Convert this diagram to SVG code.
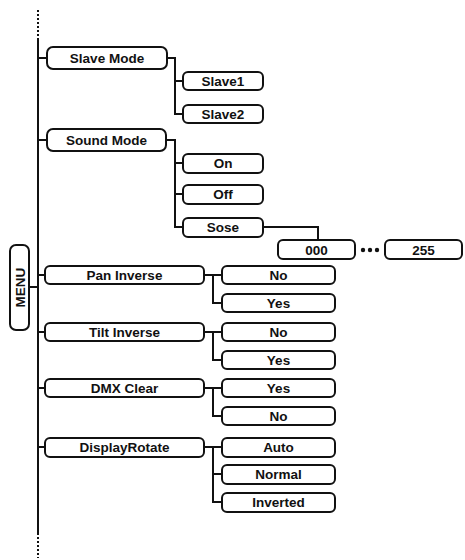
<svg xmlns="http://www.w3.org/2000/svg" width="465" height="560" viewBox="0 0 465 560">
<style>
.b{fill:#fff;stroke:#111;stroke-width:2}
.t{font-family:"Liberation Sans",Arial,sans-serif;font-weight:bold;font-size:13.5px;fill:#111;text-anchor:middle}
.c{fill:none;stroke:#111;stroke-width:2}
.d{fill:none;stroke:#111;stroke-width:2;stroke-dasharray:2 2}
</style>
<rect width="465" height="560" fill="#fff"/>
<g id="connectors">
<line class="d" x1="38" y1="10" x2="38" y2="40"/>
<line class="c" x1="38" y1="40" x2="38" y2="533"/>
<line class="d" x1="38" y1="533" x2="38" y2="558"/>
<line class="c" x1="29" y1="287" x2="38" y2="287"/>
<line class="c" x1="38" y1="58" x2="47" y2="58"/>
<line class="c" x1="38" y1="140" x2="47" y2="140"/>
<line class="c" x1="38" y1="275" x2="45" y2="275"/>
<line class="c" x1="38" y1="332" x2="45" y2="332"/>
<line class="c" x1="38" y1="388" x2="45" y2="388"/>
<line class="c" x1="38" y1="447" x2="45" y2="447"/>
<path class="c" d="M167 58H175V114H183M175 81H183"/>
<path class="c" d="M166 140H175V227H183M175 163H183M175 194H183"/>
<path class="c" d="M263 227H318V240"/>
<path class="c" d="M204 275H222M213 275V303H222"/>
<path class="c" d="M204 332H222M213 332V360H222"/>
<path class="c" d="M204 388H222M213 388V416H222"/>
<path class="c" d="M204 447H222M213 447V502H222M213 474H222"/>
<circle cx="363" cy="250" r="2.2" fill="#111"/>
<circle cx="370" cy="250" r="2.2" fill="#111"/>
<circle cx="377" cy="250" r="2.2" fill="#111"/>
</g>
<g id="menu"><rect class="b" x="10" y="245" width="19" height="85" rx="6"/><text class="t" transform="translate(24.5 287.5) rotate(-90)">MENU</text></g>
<g id="slave-mode"><rect class="b" x="47" y="47" width="120" height="22" rx="6"/><text class="t" x="107" y="63">Slave Mode</text></g>
<g id="slave1"><rect class="b" x="183" y="72" width="80" height="18" rx="5"/><text class="t" x="223" y="86">Slave1</text></g>
<g id="slave2"><rect class="b" x="183" y="105" width="80" height="18" rx="5"/><text class="t" x="223" y="119">Slave2</text></g>
<g id="sound-mode"><rect class="b" x="47" y="129" width="119" height="22" rx="6"/><text class="t" x="106.5" y="145">Sound Mode</text></g>
<g id="on"><rect class="b" x="183" y="154" width="80" height="19" rx="5"/><text class="t" x="223" y="168">On</text></g>
<g id="off"><rect class="b" x="183" y="185" width="80" height="19" rx="5"/><text class="t" x="223" y="199">Off</text></g>
<g id="sose"><rect class="b" x="183" y="218" width="80" height="19" rx="5"/><text class="t" x="223" y="232">Sose</text></g>
<g id="v000"><rect class="b" x="278" y="240" width="77" height="19" rx="5"/><text class="t" x="316.5" y="254.5">000</text></g>
<g id="v255"><rect class="b" x="385" y="240" width="77" height="19" rx="5"/><text class="t" x="423.5" y="254.5">255</text></g>
<g id="pan-inverse"><rect class="b" x="45" y="266" width="159" height="18" rx="5"/><text class="t" x="124.5" y="280">Pan Inverse</text></g>
<g id="pan-no"><rect class="b" x="222" y="266" width="113" height="18" rx="5"/><text class="t" x="278.5" y="280">No</text></g>
<g id="pan-yes"><rect class="b" x="222" y="294" width="113" height="18" rx="5"/><text class="t" x="278.5" y="308">Yes</text></g>
<g id="tilt-inverse"><rect class="b" x="45" y="323" width="159" height="18" rx="5"/><text class="t" x="124.5" y="337">Tilt Inverse</text></g>
<g id="tilt-no"><rect class="b" x="222" y="323" width="113" height="18" rx="5"/><text class="t" x="278.5" y="337">No</text></g>
<g id="tilt-yes"><rect class="b" x="222" y="351" width="113" height="18" rx="5"/><text class="t" x="278.5" y="365">Yes</text></g>
<g id="dmx-clear"><rect class="b" x="45" y="379" width="159" height="18" rx="5"/><text class="t" x="124.5" y="393">DMX Clear</text></g>
<g id="dmx-yes"><rect class="b" x="222" y="379" width="113" height="18" rx="5"/><text class="t" x="278.5" y="393">Yes</text></g>
<g id="dmx-no"><rect class="b" x="222" y="407" width="113" height="18" rx="5"/><text class="t" x="278.5" y="421">No</text></g>
<g id="display-rotate"><rect class="b" x="45" y="438" width="159" height="19" rx="5"/><text class="t" x="124.5" y="452">DisplayRotate</text></g>
<g id="auto"><rect class="b" x="222" y="438" width="113" height="19" rx="5"/><text class="t" x="278.5" y="452">Auto</text></g>
<g id="normal"><rect class="b" x="222" y="465" width="113" height="19" rx="5"/><text class="t" x="278.5" y="479">Normal</text></g>
<g id="inverted"><rect class="b" x="222" y="493" width="113" height="19" rx="5"/><text class="t" x="278.5" y="507">Inverted</text></g>
</svg>
